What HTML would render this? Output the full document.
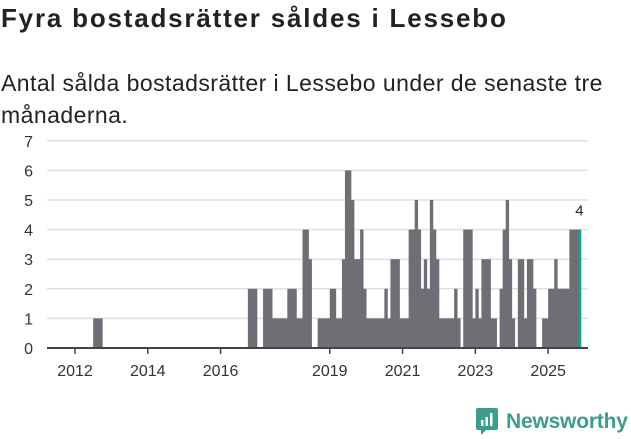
<!DOCTYPE html>
<html><head><meta charset="utf-8"><style>
body{margin:0;width:631px;height:439px;background:#fff;font-family:"Liberation Sans",sans-serif;overflow:hidden;position:relative}
h1{position:absolute;left:1px;top:3px;margin:0;font-size:26px;font-weight:bold;color:#222;letter-spacing:1.8px;white-space:nowrap}
.sub{position:absolute;left:1px;top:67px;margin:0;font-size:23px;line-height:32px;color:#222;width:622px;letter-spacing:0.45px}
svg{position:absolute;left:0;top:0}
</style></head><body>
<h1>Fyra bostadsrätter såldes i Lessebo</h1>
<p class="sub">Antal sålda bostadsrätter i Lessebo under de senaste tre månaderna.</p>
<svg id="c" width="631" height="439"></svg>
<div style="position:absolute;left:476px;top:408px;display:flex;align-items:center">
<svg width="22" height="28" viewBox="0 0 22 28" style="position:static"><path d="M2 0h18a2 2 0 0 1 2 2v18a2 2 0 0 1-2 2H10l-5 5v-5H2a2 2 0 0 1-2-2V2a2 2 0 0 1 2-2z" fill="#3d9c8e"/><rect x="5" y="12" width="2.5" height="6" fill="#fff"/><rect x="9.5" y="9" width="2.5" height="9" fill="#fff"/><rect x="14" y="5" width="2.5" height="13" fill="#fff"/></svg>
<span style="margin-left:8px;font-size:21px;color:#3d9c8e;font-weight:bold;letter-spacing:-0.2px">Newsworthy</span></div>
<script>
const startYear = 2012;
const values = [
0,0,0,0,0,0,1,1,1,0,0,0,
0,0,0,0,0,0,0,0,0,0,0,0,
0,0,0,0,0,0,0,0,0,0,0,0,
0,0,0,0,0,0,0,0,0,0,0,0,
0,0,0,0,0,0,0,0,0,2,2,2,
0,0,2,2,2,1,1,1,1,1,2,2,
2,1,1,4,4,3,0,0,1,1,1,1,
2,2,1,1,3,6,6,5,3,3,4,2,
1,1,1,1,1,1,2,1,3,3,3,1,
1,1,4,4,5,4,2,3,2,5,4,3,
1,1,1,1,1,2,1,0,4,4,4,1,
2,1,3,3,3,1,1,0,2,4,5,3,
1,0,3,3,1,3,3,2,0,0,1,1,
2,2,3,2,2,2,2,4,4,4,4];
const yTicks = [0,1,2,3,4,5,6,7];
const xTickYears = [2012,2014,2016,2019,2021,2023,2025];
const NS='http://www.w3.org/2000/svg';
const svg=document.getElementById('c');
const x0=75, mw=3.033, y0=348, yu=29.6;
const xs=i=>x0+i*mw;
const ys=v=>y0-v*yu;
function mk(t,a){const e=document.createElementNS(NS,t);for(const k in a)e.setAttribute(k,a[k]);svg.appendChild(e);return e;}
yTicks.forEach(v=>{
  if(v>0){const g=mk('line',{x1:47,x2:588,y1:ys(v),y2:ys(v),stroke:'#e0e0e0','stroke-width':1.5});
  
  }
  const t=mk('text',{x:33,y:ys(v)+6,'text-anchor':'end','font-size':16,fill:'#333','font-family':'Liberation Sans, sans-serif'});
  t.textContent=v;
  
  
});
values.forEach((v,i)=>{
  if(v<=0)return;
  const last=i===values.length-1;
  const r=mk('rect',{x:xs(i),y:ys(v),width:last?mw-0.2:mw+0.35,height:v*yu,fill:last?'#1aa090':'#6f6e74'});
  
  
});
const li=values.length-1;
const lab=mk('text',{x:xs(li)+1,y:ys(values[li])-14,'text-anchor':'middle','font-size':15,fill:'#222','font-family':'Liberation Sans, sans-serif'});
lab.textContent=values[li];


const ax=mk('line',{x1:47,x2:588,y1:y0,y2:y0,stroke:'#444','stroke-width':2});


xTickYears.forEach(yr=>{
  const x=xs((yr-startYear)*12);
  const tk=mk('line',{x1:x,x2:x,y1:y0,y2:y0+6,stroke:'#444','stroke-width':1.5});
  
  
  const t=mk('text',{x:x,y:y0+28,'text-anchor':'middle','font-size':16,fill:'#333','font-family':'Liberation Sans, sans-serif'});
  t.textContent=yr;
  
  
});
</script>
</body></html>
